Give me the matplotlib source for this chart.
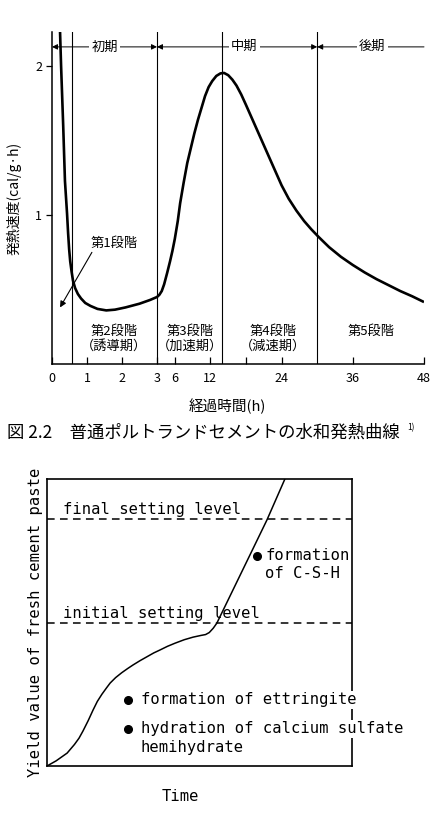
import numpy as np
import matplotlib
matplotlib.use('Agg')
import matplotlib.pyplot as plt

plt.rcParams['font.family'] = ['Noto Sans CJK JP', 'DejaVu Sans']

# ---- 上: 水和発熱曲線 ----
hours = [0.23, 0.26, 0.32, 0.37, 0.43, 0.46, 0.49, 0.52, 0.56, 0.60, 0.66, 0.74, 0.83,
         0.95, 1.1, 1.3, 1.55, 1.8, 2.1, 2.5, 2.8, 3.0, 3.4, 3.8, 4.2, 4.7, 5.2, 5.6, 6.0,
         6.5, 6.9, 7.5, 8.1, 8.7, 9.3, 9.9, 10.5, 11.1, 11.7, 12.3, 13.0, 13.7, 14.3, 15.0,
         15.7, 16.4, 17.2, 18.0, 19.0, 20.0, 21.0, 22.0, 23.0, 24.0, 25.2, 26.5, 27.8,
         29.0, 30.2, 32.0, 34.0, 36.0, 38.0, 40.0, 42.0, 44.0, 46.0, 47.8]
rate = [2.23, 2.0, 1.6, 1.23, 1.01, 0.88, 0.77, 0.69, 0.62, 0.56, 0.51, 0.47, 0.44,
        0.41, 0.39, 0.37, 0.36, 0.365, 0.38, 0.405, 0.43, 0.45, 0.465, 0.49, 0.535, 0.61,
        0.69, 0.76, 0.84, 0.96, 1.08, 1.22, 1.35, 1.45, 1.55, 1.64, 1.72, 1.80, 1.86,
        1.90, 1.935, 1.952, 1.955, 1.94, 1.91, 1.87, 1.81, 1.74, 1.65, 1.56, 1.47, 1.38,
        1.29, 1.20, 1.11, 1.03, 0.96, 0.905, 0.855, 0.785, 0.72, 0.665, 0.615, 0.57, 0.53,
        0.49, 0.455, 0.42]
stage_bounds = [0.57, 3, 14, 30]
xtick_vals = [0, 1, 2, 3, 6, 12, 18, 24, 36, 48]
xtick_labels = ['0', '1', '2', '3', '6', '12', '', '24', '36', '48']
ytick_vals = [1, 2]
periods = ['初期', '中期', '後期']
period_span = [(0, 3), (3, 30), (30, 48)]
period_text_x = [1.5, 17.7, 39.3]
stage_labels = ['第2段階\n（誘導期）', '第3段階\n（加速期）', '第4段階\n（減速期）', '第5段階']
stage_label_x = [1.77, 8.6, 22.6, 39.0]

# ---- 下: 降伏値 ----
tm = [0, 0.03, 0.066, 0.09, 0.105, 0.118, 0.135, 0.151, 0.165, 0.18, 0.195, 0.207, 0.225,
      0.245, 0.265, 0.282, 0.305, 0.33, 0.35, 0.370, 0.395, 0.42, 0.45, 0.479, 0.505,
      0.52, 0.532, 0.545, 0.557, 0.721, 0.780]
yv = [0, 0.018, 0.045, 0.075, 0.097, 0.122, 0.158, 0.195, 0.225, 0.25, 0.272, 0.289, 0.308,
      0.325, 0.34, 0.352, 0.367, 0.382, 0.394, 0.404, 0.417, 0.428, 0.44, 0.449, 0.455,
      0.458, 0.465, 0.48, 0.498, 0.857, 1.0]
final_level = 0.861
initial_level = 0.498


def fwd(h):
    h = np.asarray(h, float)
    return np.where(h <= 3, h * 35.0, 105 + (h - 3) * 267 / 45)


def inv(u):
    u = np.asarray(u, float)
    return np.where(u <= 105, u / 35.0, 3 + (u - 105) * 45 / 267)


fig = plt.figure(figsize=(4.3, 8.16), dpi=100)

ax = fig.add_axes([52 / 430, 1 - 364 / 816, 372 / 430, 332 / 816])
ax.set_xscale('function', functions=(fwd, inv))
ax.set_xlim(0, 48)
ax.set_ylim(0, 2.23)
ax.plot(hours, rate, color='black', lw=1.9, solid_joinstyle='round')
for b in stage_bounds:
    ax.axvline(b, color='black', lw=0.8)
for s in ['top', 'right']:
    ax.spines[s].set_visible(False)
for s in ['left', 'bottom']:
    ax.spines[s].set_linewidth(1.1)
ax.set_xticks(xtick_vals)
ax.set_xticklabels(xtick_labels, fontsize=9)
ax.xaxis.set_minor_locator(matplotlib.ticker.NullLocator())
ax.tick_params(axis='x', direction='in', length=5, width=0.9, pad=6)
ax.set_yticks(ytick_vals)
ax.set_yticklabels([str(v) for v in ytick_vals], fontsize=9)
ax.tick_params(axis='y', direction='out', length=4, width=0.9, pad=3)
ax.set_ylabel('発熱速度(cal/g·h)', fontsize=10)
ax.yaxis.set_label_coords(-0.081, 0.5)
ax.set_xlabel('経過時間(h)', fontsize=10.5)
ax.xaxis.set_label_coords(0.47, -0.105)

for (a, b), name, tx in zip(period_span, periods, period_text_x):
    style = '-|>' if name == '後期' else '<|-|>'
    ax.annotate('', xy=(a, 2.13), xytext=(b, 2.13),
                arrowprops=dict(arrowstyle=style, color='black', lw=0.7,
                                mutation_scale=8, shrinkA=0, shrinkB=0))
    ax.text(tx, 2.13, name, ha='center', va='center', fontsize=9.5,
            bbox=dict(facecolor='white', edgecolor='none', pad=1.5))

ax.annotate('', xy=(0.23, 0.38), xytext=(1.14, 0.75),
            arrowprops=dict(arrowstyle='-|>', color='black', lw=0.8, mutation_scale=9,
                            shrinkA=0, shrinkB=0))
ax.text(1.77, 0.81, '第1段階', ha='center', va='center', fontsize=9.5)
for lab, x in zip(stage_labels, stage_label_x):
    ax.text(x, 0.265, lab, ha='center', va='top', fontsize=9.5, linespacing=1.2)

fig.text(7 / 430, 1 - 433 / 816, '図 2.2　普通ポルトランドセメントの水和発熱曲線',
         ha='left', va='center', fontsize=12.5)
fig.text(407 / 430, 1 - 428 / 816, '1)', ha='left', va='center', fontsize=6)

# ---- bottom chart ----
mono = 'DejaVu Sans Mono'
bx = fig.add_axes([47 / 430, 1 - 766 / 816, 305 / 430, 287 / 816])
bx.set_xlim(0, 1)
bx.set_ylim(0, 1)
bx.plot(tm, yv, color='black', lw=1.1, solid_joinstyle='round')
bx.axhline(final_level, color='black', lw=1.1, dashes=(5, 3.5))
bx.axhline(initial_level, color='black', lw=1.1, dashes=(5, 3.5))
for s in bx.spines.values():
    s.set_linewidth(1.2)
bx.set_xticks([])
bx.set_yticks([])
bx.set_ylabel('Yield value of fresh cement paste', family=mono, fontsize=11.2, labelpad=3)
bx.set_xlabel('Time', family=mono, fontsize=11.2)
bx.xaxis.set_label_coords(0.436, -0.08)

bx.text(0.052, 0.868, 'final setting level', family=mono, fontsize=11.2, va='bottom')
bx.text(0.052, 0.505, 'initial setting level', family=mono, fontsize=11.2, va='bottom')

bx.plot([0.689], [0.732], 'o', color='black', ms=5.5)
bx.text(0.715, 0.732, 'formation', family=mono, fontsize=11.2, va='center')
bx.text(0.715, 0.669, 'of C-S-H', family=mono, fontsize=11.2, va='center')

bx.plot([0.266], [0.230], 'o', color='black', ms=5.5, clip_on=False)
bx.text(0.308, 0.230, 'formation of ettringite', family=mono, fontsize=11.2, va='center',
        bbox=dict(facecolor='white', edgecolor='none', pad=1.0))
bx.plot([0.266], [0.129], 'o', color='black', ms=5.5, clip_on=False)
bx.text(0.308, 0.129, 'hydration of calcium sulfate', family=mono, fontsize=11.2,
        va='center', bbox=dict(facecolor='white', edgecolor='none', pad=1.0))
bx.text(0.308, 0.063, 'hemihydrate', family=mono, fontsize=11.2, va='center',
        bbox=dict(facecolor='white', edgecolor='none', pad=1.0))

fig.savefig('out.png', dpi=100)
